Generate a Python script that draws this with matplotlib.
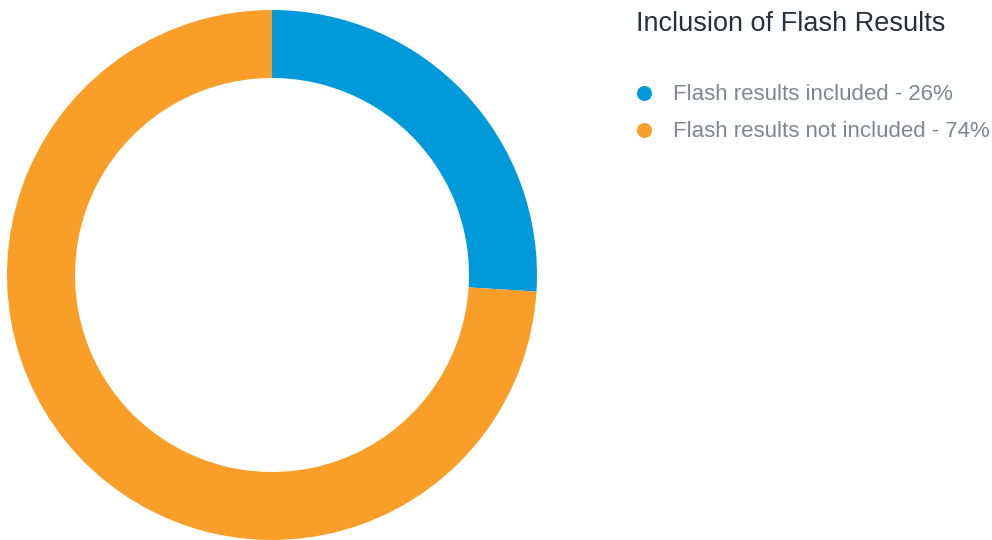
import matplotlib.pyplot as plt
from matplotlib.lines import Line2D

# Datos del gráfico de anillo
labels = ["Flash results included", "Flash results not included"]
shares = [26, 74]
colors = ["#009ADB", "#F99F29"]
title = "Inclusion of Flash Results"

fig = plt.figure(figsize=(9.92, 5.4), dpi=100)

# Anillo
ax = fig.add_axes([7 / 992, 0 / 540, 530 / 992, 530 / 540])
ax.pie(shares, colors=colors, startangle=90, counterclock=False,
       radius=1.0, wedgeprops=dict(width=68 / 265, linewidth=0))
ax.set_xlim(-1, 1)
ax.set_ylim(-1, 1)
ax.set_aspect("equal")
ax.axis("off")

# Título y leyenda a la derecha
fig.text(636 / 992, 1 - 31 / 540, title, fontsize=19.5, color="#26313B",
         family="Liberation Sans", va="baseline", ha="left")

dot_y = [93, 130]
text_y = [100, 137]
for lab, val, col, yd, yt in zip(labels, shares, colors, dot_y, text_y):
    fig.add_artist(Line2D([644 / 992], [1 - yd / 540], marker="o",
                          markersize=10.8, color=col, markeredgewidth=0,
                          transform=fig.transFigure))
    fig.text(673 / 992, 1 - yt / 540, f"{lab} - {val}%", fontsize=16,
             color="#7F8890", family="Liberation Sans", va="baseline",
             ha="left")

fig.savefig("out.png", dpi=100)
